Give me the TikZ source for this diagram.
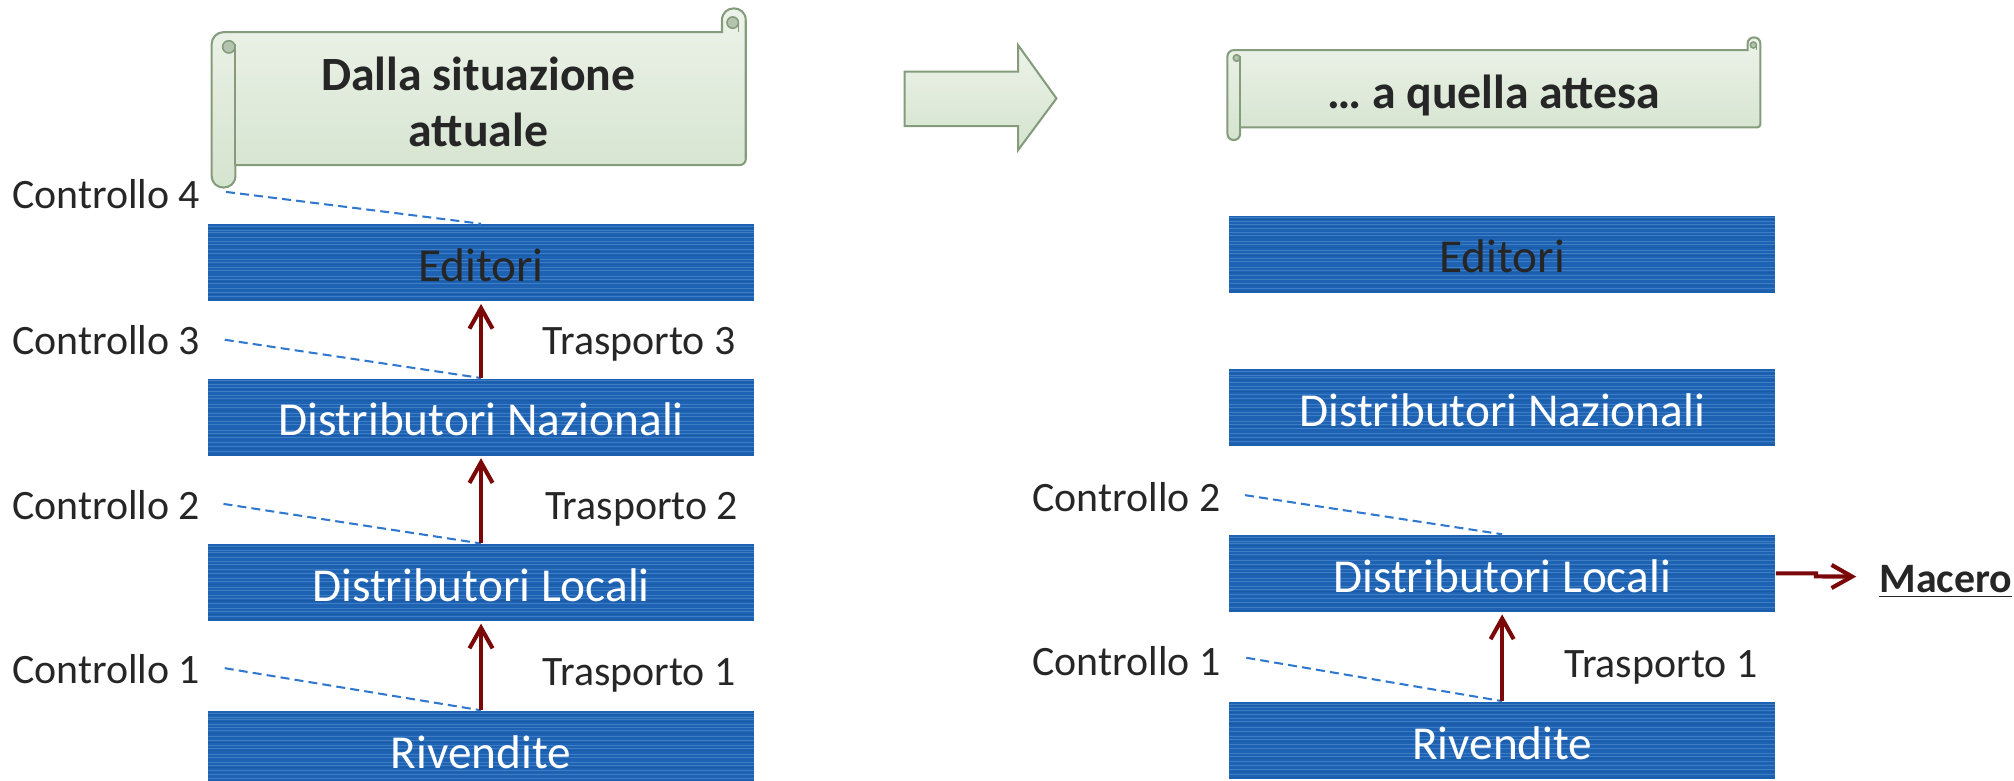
\documentclass[tikz,border=0pt]{standalone}
\usepackage{fontspec}
\setmainfont{Carlito}
\usetikzlibrary{arrows.meta,calc}
\definecolor{boxblue}{HTML}{1E63B3}
\definecolor{stripeL}{HTML}{5A92D2}
\definecolor{stripeD}{HTML}{174F94}
\definecolor{darkred}{HTML}{7A0808}
\definecolor{dashblue}{HTML}{2F78CE}
\definecolor{txt}{HTML}{262626}
\definecolor{scrtop}{HTML}{EDF3EA}
\definecolor{scrbot}{HTML}{D4E3CE}
\definecolor{scrline}{HTML}{849C7C}
\definecolor{curlfill}{HTML}{B4C4AE}

\newcommand\boxstripes{%
  \foreach \f in {0.03,0.08,0.11,0.17,0.22,0.26,0.33,0.38,0.45,0.49,0.56,0.60,0.67,0.71,0.77,0.83,0.88,0.94}{%
    \draw[stripeL, line width=0.3pt, opacity=0.55]
      ($(path picture bounding box.north west)!\f!(path picture bounding box.south west)$) --
      ($(path picture bounding box.north east)!\f!(path picture bounding box.south east)$);}%
  \foreach \f in {0.05,0.14,0.29,0.41,0.52,0.74,0.91,0.98}{%
    \draw[stripeD, line width=0.4pt, opacity=0.35]
      ($(path picture bounding box.north west)!\f!(path picture bounding box.south west)$) --
      ($(path picture bounding box.north east)!\f!(path picture bounding box.south east)$);}%
}

% #1 L, #2 R, #3 knob top, #4 body top, #5 body bottom, #6 roll bottom
\newcommand\drawScroll[6]{%
  \pgfmathsetmacro\scrC{#4-#3}%
  \pgfmathsetmacro\scrH{\scrC/2}%
  \path[scrollst] (#1,{#6-\scrH}) -- (#1,{#4+\scrH})
    .. controls (#1,{#4+0.224*\scrC}) and ({#1+0.224*\scrC},#4) .. ({#1+\scrH},#4)
    -- ({#2-\scrC},#4) -- ({#2-\scrC},{#3+\scrH})
    .. controls ({#2-\scrC},{#3-\scrC/6}) and (#2,{#3-\scrC/6}) .. (#2,{#3+\scrH})
    -- (#2,{#5-\scrC/4})
    .. controls (#2,{#5-0.112*\scrC}) and ({#2-0.112*\scrC},#5) .. ({#2-\scrC/4},#5)
    -- ({#1+\scrC},#5) -- ({#1+\scrC},{#6-\scrH})
    .. controls ({#1+\scrC},{#6+\scrC/6}) and (#1,{#6+\scrC/6}) .. (#1,{#6-\scrH}) -- cycle;
  \draw[draw=scrline, line width=0.8pt] ({#1+\scrC},{#4+\scrH}) -- ({#1+\scrC},#5);
  \filldraw[draw=scrline, fill=curlfill, line width=0.6pt] ({#1+0.72*\scrC},{#4+0.62*\scrC}) circle[radius=0.26*\scrC];
  \filldraw[draw=scrline, fill=curlfill, line width=0.6pt] ({#2-0.55*\scrC},{#3+0.6*\scrC}) circle[radius=0.24*\scrC];
  \draw[draw=scrline, line width=0.6pt] ({#2-0.31*\scrC},{#3+0.6*\scrC}) -- ({#2-0.31*\scrC},#4);
}

\begin{document}
\begin{tikzpicture}[x=0.5pt,y=-0.5pt,
  scrollst/.style={draw=scrline, line width=0.8pt, top color=scrtop, bottom color=scrbot},
  bbox/.style={fill=boxblue, minimum width=212.75pt, minimum height=30pt, inner sep=0pt,
    text height=14.7pt, text depth=0pt,
    font=\fontsize{18.4}{22}\selectfont, text=white, path picture={\boxstripes}},
  dkbox/.style={bbox, text=txt},
  lbl/.style={font=\fontsize{16.3}{19}\selectfont, text=txt, inner sep=0pt},
  ttl/.style={font=\fontsize{18.6}{22}\selectfont\bfseries, text=txt, inner sep=0pt},
  tr/.style={draw=darkred, line width=1.6pt, -{Straight Barb[length=8pt,width=9pt]}},
  ctl/.style={draw=dashblue, line width=0.8pt, dash pattern=on 3.5pt off 2pt},
]
\useasboundingbox (0,0) rectangle (1568,607.5);

% ---------- scrolls and big arrow ----------
\drawScroll{164.8}{580.6}{6.5}{25}{128.5}{146}
\node[ttl, anchor=base] (t1a) at (372.4,70.1) {Dalla situazione};
\node[ttl, anchor=base] (t1b) at (372.4,114.2) {attuale};

\drawScroll{955.6}{1370.5}{29.1}{39}{99.2}{109}
\node[ttl, anchor=base] (t2) at (1163,84.4) {… a quella attesa};

\path[scrollst] (704.3,55.8) -- (792.6,55.8) -- (792.6,35.1) -- (822.5,76.6)
  -- (792.6,116.9) -- (792.6,98.2) -- (704.3,98.2) -- cycle;

% ---------- left column ----------
\node[dkbox] (ed1) at (374.5,204.6) {Editori};
\node[bbox] (dn1) at (374.5,324.7) {Distributori Nazionali};
\node[bbox] (dl1) at (374.5,453.5) {Distributori Locali};
\node[bbox] (rv1) at (374.5,583.4) {Rivendite};

\node[lbl, anchor=base west] (lc4) at (9,162.4) {Controllo 4};
\node[lbl, anchor=base west] (lc3) at (9,276.3) {Controllo 3};
\node[lbl, anchor=base west] (lc2) at (9,404.7) {Controllo 2};
\node[lbl, anchor=base west] (lc1) at (9,532.5) {Controllo 1};
\node[lbl, anchor=base west] (lt3) at (422,276.3) {Trasporto 3};
\node[lbl, anchor=base west] (lt2) at (424,404.7) {Trasporto 2};
\node[lbl, anchor=base west] (lt1) at (422,533.8) {Trasporto 1};

\coordinate (s4) at (176,149.4);
\coordinate (s3) at (175,264.5);
\coordinate (s2) at (174,392.3);
\coordinate (s1) at (175,520.2);
\draw[ctl] (s4) -- (ed1.north);
\draw[ctl] (s3) -- (dn1.north);
\draw[ctl] (s2) -- (dl1.north);
\draw[ctl] (s1) -- (rv1.north);

\draw[tr] (dn1.north) -- ([yshift=-0.8pt]ed1.south);
\draw[tr] (dl1.north) -- ([yshift=-0.8pt]dn1.south);
\draw[tr] (rv1.north) -- ([yshift=-0.8pt]dl1.south);

% ---------- right column ----------
\node[dkbox] (ed2) at (1169.5,197.8) {Editori};
\node[bbox] (dn2) at (1169.5,317.55) {Distributori Nazionali};
\node[bbox] (dl2) at (1169.5,446.35) {Distributori Locali};
\node[bbox] (rv2) at (1169.5,576.25) {Rivendite};

\node[lbl, anchor=base west] (rc2) at (803.4,398.2) {Controllo 2};
\node[lbl, anchor=base west] (rc1) at (803.4,526) {Controllo 1};
\node[lbl, anchor=base west] (rt1) at (1217.5,527.6) {Trasporto 1};

\coordinate (r2) at (969.3,385.5);
\coordinate (r1) at (970.3,512.1);
\draw[ctl] (r2) -- (dl2.north);
\draw[ctl] (r1) -- (rv2.north);

\draw[tr] (rv2.north) -- ([yshift=-0.8pt]dl2.south);

\node[font=\fontsize{16.3}{19}\selectfont\bfseries, text=txt, inner sep=0pt, anchor=base west] (mac) at (1462.8,461.3) {\underline{Macero}};
\coordinate (mtip) at (1445.2,448.9);
\draw[tr] (dl2.east) -- ++(15.6pt,0) -- ++(0,-1.2pt) -- (mtip);
\end{tikzpicture}
\end{document}
